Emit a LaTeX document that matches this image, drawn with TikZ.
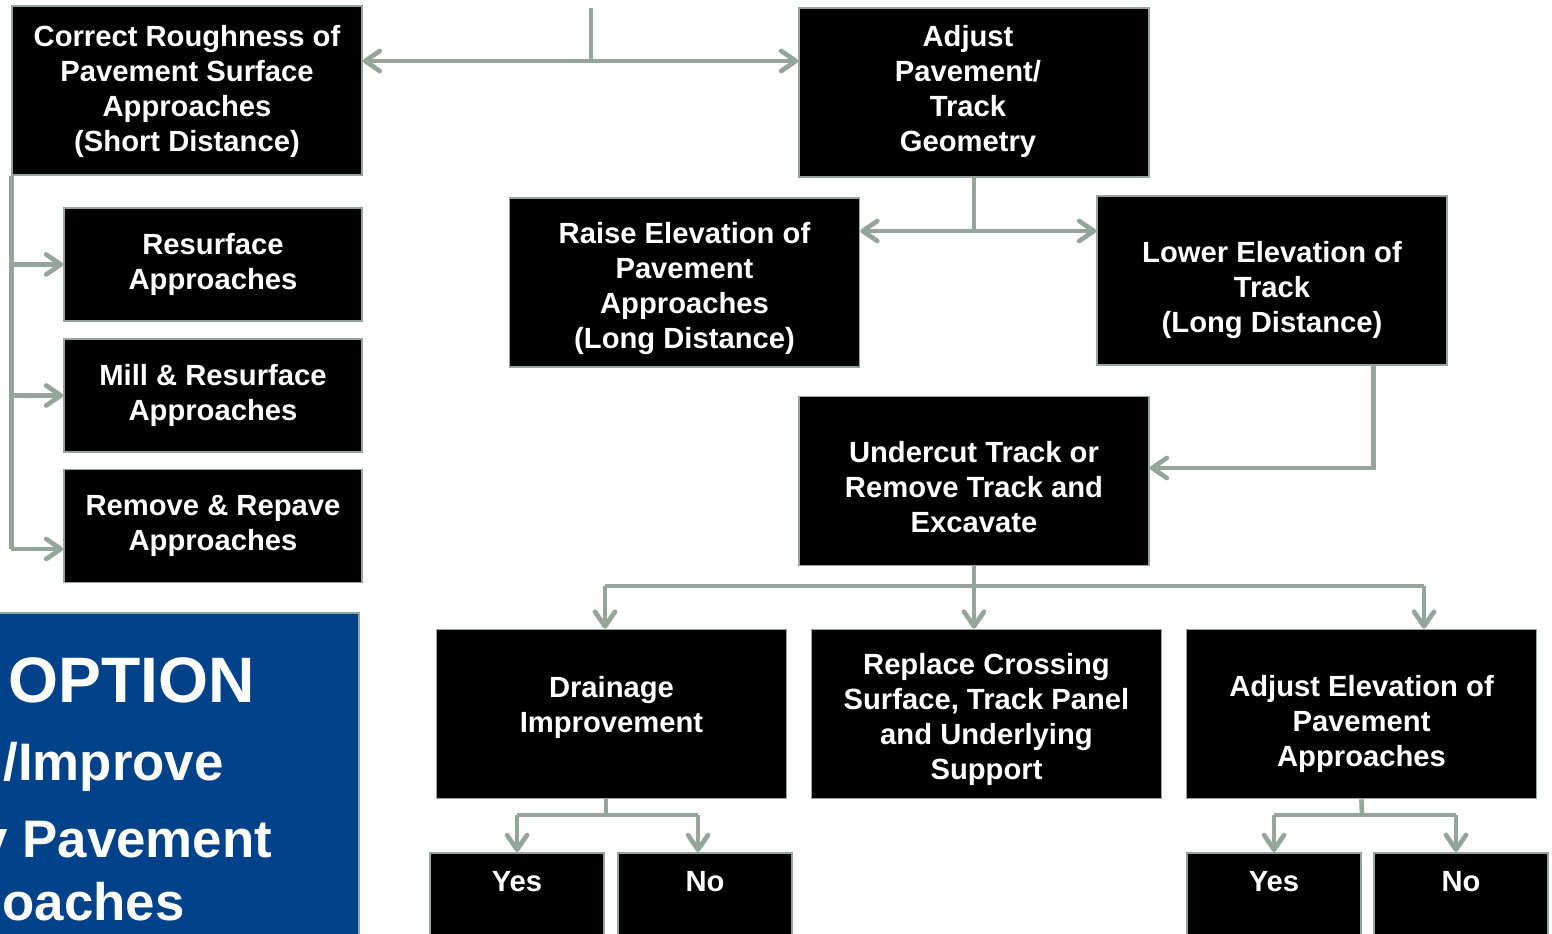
\documentclass[tikz,border=0pt]{standalone}
\usepackage{fontspec}
\setmainfont{Liberation Sans}
\usetikzlibrary{arrows.meta,calc}
\definecolor{linkgray}{RGB}{149,165,155}
\definecolor{optblue}{RGB}{0,66,137}
\newcommand{\boxfont}{\fontsize{21.9}{26.25}\selectfont\bfseries}
\newcommand{\optfont}{\fontsize{39.6}{39.6}\selectfont\bfseries}
\tikzset{every picture/.style={line width=0.75pt}}
\tikzset{
  box/.style={draw=linkgray, line width=1.2pt, fill=black, text=white, align=center, font=\boxfont, inner sep=0pt, minimum width=262.5pt, minimum height=126.75pt},
  smallbox/.style={box, minimum width=223.5pt, minimum height=84.75pt},
  answer/.style={box, minimum width=130.5pt, minimum height=0pt, text height=29pt, text depth=70pt},
  boxtext/.style={text=white, align=center, font=\boxfont, inner sep=0pt},
  link/.style={draw=linkgray, line width=3.5pt},
  arr/.style={link, -{Straight Barb[length=11pt,width=15pt,round]}},
  optline/.style={text=white, anchor=base west, inner sep=0pt, font=\optfont},
}

\begin{document}
\begin{tikzpicture}[x=0.75pt,y=0.75pt,yscale=-1,xscale=1]
\useasboundingbox (0,0) rectangle (1552,934);
\clip (0,0) rectangle (1552,934);

%Shape: Option panel
\filldraw[fill=optblue, draw=linkgray, line width=1.2pt] (-5,613) rectangle (359,945);
% Text Node
\node[optline, font=\fontsize{48.2}{48.2}\selectfont\bfseries] (opt1) at (8,702) {OPTION};
\node[optline] (opt2) at (3,780) {/Improve};
\node[optline] (opt3) at (-22,857) {y Pavement};
\node[optline] (opt4) at (2,920) {oaches};

%Boxes
\node[box] (rough) at (187,90.5) {};
\node[boxtext] (roughTxt) at ($(rough)+(0,1)$) {Correct Roughness of\\Pavement Surface\\Approaches\\(Short Distance)};
\node[box] (geom) at (974,92.5) {};
\node[boxtext] (geomTxt) at ($(geom)+(-6,-1)$) {Adjust\\Pavement/\\Track\\Geometry};
\node[smallbox] (resurf) at (213,264.5) {Resurface\\Approaches};
\node[smallbox] (mill) at (213,395.5) {Mill \& Resurface\\Approaches};
\node[smallbox] (repave) at (213,526) {Remove \& Repave\\Approaches};
\node[box] (raise) at (684.5,282.5) {};
\node[boxtext] (raiseTxt) at ($(raise)+(0,6)$) {Raise Elevation of\\Pavement\\Approaches\\(Long Distance)};
\node[box] (lower) at (1272,280.5) {};
\node[boxtext] (lowerTxt) at ($(lower)+(0,10)$) {Lower Elevation of\\Track\\(Long Distance)};
\node[box] (under) at (974,481) {};
\node[boxtext] (underTxt) at ($(under)+(0,6)$) {Undercut Track or\\Remove Track and\\Excavate};
\node[box] (drain) at (611.5,714) {};
\node[boxtext] (drainTxt) at ($(drain)+(0,-7)$) {Drainage\\Improvement};
\node[box] (replace) at (986.5,714) {};
\node[boxtext] (replaceTxt) at ($(replace)+(0,5)$) {Replace Crossing\\Surface, Track Panel\\and Underlying\\Support};
\node[box] (adjust) at (1361.5,714) {};
\node[boxtext] (adjustTxt) at ($(adjust)+(0,10)$) {Adjust Elevation of\\Pavement\\Approaches};
\node[answer, anchor=north] (yesA) at (517,852) {Yes};
\node[answer, anchor=north] (noA) at (705,852) {No};
\node[answer, anchor=north] (yesB) at (1274,852) {Yes};
\node[answer, anchor=north] (noB) at (1461,852) {No};

%Connectors
\coordinate (feed) at (591,8);
\coordinate (topjoin) at (591,61);
\draw[link] (feed) -- (topjoin);
\draw[arr] (topjoin) -- (rough.east |- topjoin);
\draw[arr] (topjoin) -- (geom.west |- topjoin);

\draw[link] (rough.south west) -- ($(repave.west -| rough.south west)+(0,23)$);
\draw[arr] (rough.south west |- resurf.west) -- (resurf.west);
\draw[arr] (rough.south west |- mill.west) -- (mill.west);
\draw[arr] ($(repave.west -| rough.south west)+(0,23)$) -- ($(repave.west)+(0,23)$);

\coordinate (gjoin) at (974,231);
\draw[link] (geom.south) -- (gjoin);
\draw[arr] (gjoin) -- (raise.east |- gjoin);
\draw[arr] (gjoin) -- (lower.west |- gjoin);

\draw[arr] ($(lower.south east)+(-74,0)$) |- ($(under.east)+(0,-13)$);

\coordinate (ujoin) at (974,586);
\coordinate (uleft) at (605,586);
\coordinate (uright) at (1424,586);
\draw[link] (under.south) -- (ujoin);
\draw[link] (uleft) -- (uright);
\draw[arr] (uleft) -- (uleft |- drain.north);
\draw[arr] (ujoin) -- (ujoin |- replace.north);
\draw[arr] (uright) -- (uright |- adjust.north);

\coordinate (djoin) at (606,815);
\coordinate (dleft) at (517,815);
\coordinate (dright) at (698,815);
\draw[link] (djoin |- drain.south) -- (djoin);
\draw[link] (dleft) -- (dright);
\draw[arr] (dleft) -- (yesA.north);
\draw[arr] (dright) -- (dright |- noA.north);

\coordinate (ajoin) at (1362,815);
\coordinate (aleft) at (1274,815);
\coordinate (aright) at (1456,815);
\draw[link] (adjust.south) -- (ajoin);
\draw[link] (aleft) -- (aright);
\draw[arr] (aleft) -- (yesB.north);
\draw[arr] (aright) -- (aright |- noB.north);

\end{tikzpicture}
\end{document}
